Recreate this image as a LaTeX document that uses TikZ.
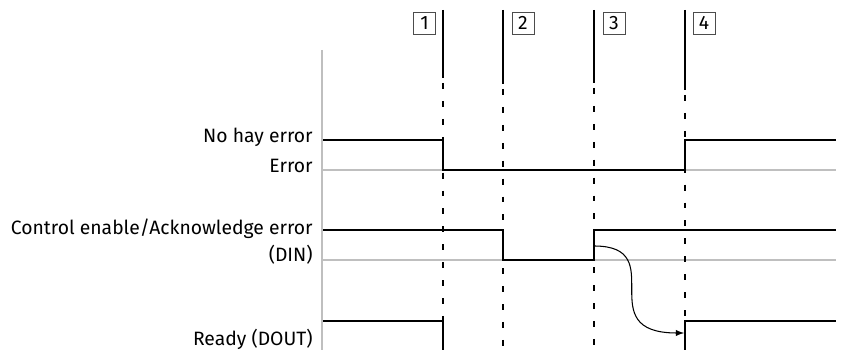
\documentclass[tikz,border=0pt]{standalone}
\usepackage{fontspec}
\setmainfont{Fira Sans}
\usepackage{tikz}
\usetikzlibrary{arrows,positioning}
\tikzset{>=latex}

\begin{document}
\begin{tikzpicture}[x=0.02cm, y=-0.02cm,
                          axis/.style={line width=1.1pt, black!25},
                          signal/.style={line width=1.5pt, black},
                          marker/.style={line width=0.7pt, black},
                          mydash/.style={line width=0.7pt, black, dash pattern=on 3.4pt off 6.8pt},
                          numbox/.style={draw=black!70, line width=0.5pt, minimum size=0.44cm, inner sep=0pt, font=\fontsize{11}{13}\selectfont},
                          lbl/.style={anchor=base east, inner sep=0pt, font=\fontsize{11}{13}\selectfont},
                         ]

\useasboundingbox (0,0) rectangle (855,350);

% gray axis and base lines
\draw[axis] (322,50) -- (322,350);
\draw[axis] (322,170) -- (836,170);
\draw[axis] (322,260) -- (836,260);

% labels
\node[lbl] (noerr) at (313,143) {No hay error};
\node[lbl] (err) at (313,173) {Error};
\node[lbl] (ctrl) at (313,235) {Control enable/Acknowledge error};
\node[lbl] (din) at (313,262) {(DIN)};
\node[lbl] (ready) at (313,346) {Ready (DOUT)};

% time markers
\draw[marker] (443,10) -- (443,78);
\draw[mydash] (443,83) -- (443,350);
\draw[marker] (503,10) -- (503,84);
\draw[mydash] (503,89) -- (503,350);
\draw[marker] (594,10) -- (594,83);
\draw[mydash] (594,88) -- (594,350);
\draw[marker] (685,10) -- (685,90);
\draw[mydash] (685,95) -- (685,350);

\node[numbox] (n1) at (424.5,23) {1};
\node[numbox] (n2) at (523,23) {2};
\node[numbox] (n3) at (614,23) {3};
\node[numbox] (n4) at (704,23) {4};

% signals
\draw[signal] (323,140) -- (443,140) -- (443,170) -- (685,170) -- (685,140) -- (836,140);
\draw[signal] (323,230) -- (503,230) -- (503,260) -- (594,260) -- (594,230) -- (836,230);
\draw[signal] (323,321) -- (443,321) -- (443,350);
\draw[signal] (685,350) -- (685,321) -- (836,321);

\coordinate (start) at (594,246);
\coordinate (tip) at (684,333);
\draw[->, line width=0.6pt] (start) .. controls +(78,0) and +(-95,0) .. (tip);

\end{tikzpicture}
\end{document}
